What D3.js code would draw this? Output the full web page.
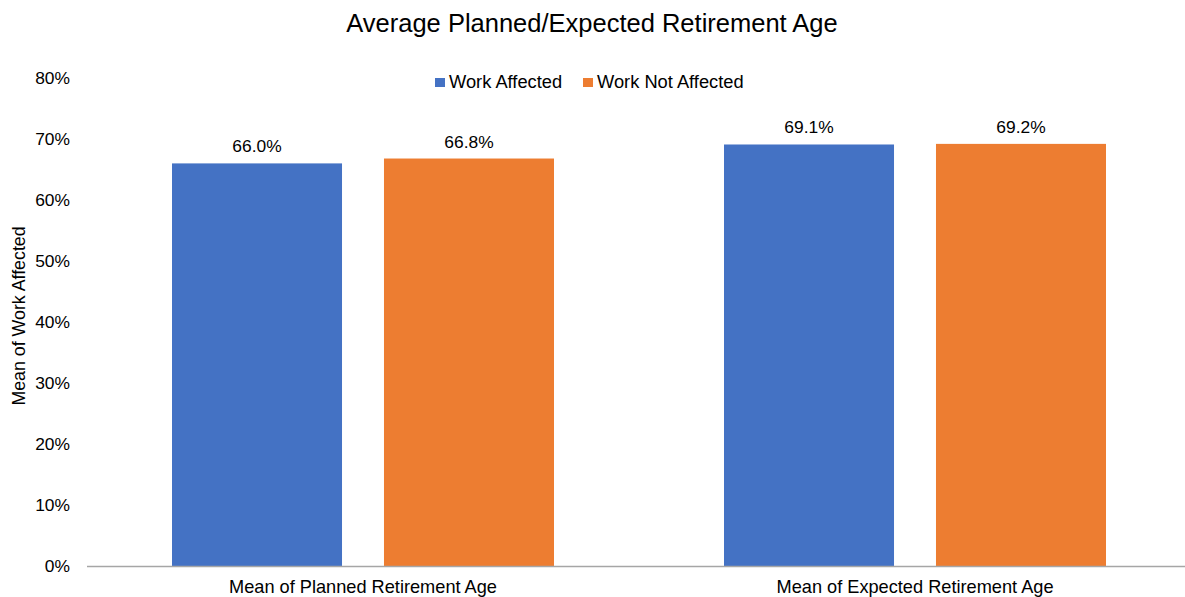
<!DOCTYPE html>
<html><head><meta charset="utf-8">
<script src="https://cdn.jsdelivr.net/npm/d3@7"></script>
<style>body{margin:0;background:#fff}svg{display:block;font-family:"Liberation Sans",Arial,sans-serif}</style>
</head><body><svg id="c" width="1185" height="597"></svg>
<script>
const title = "Average Planned/Expected Retirement Age";
const categories = ["Mean of Planned Retirement Age", "Mean of Expected Retirement Age"];
const seriesNames = ["Work Affected", "Work Not Affected"];
const workAffected = [66.0, 69.1];
const workNotAffected = [66.8, 69.2];
const colors = ["#4472C4", "#ED7D31"];
const yTicks = [0, 10, 20, 30, 40, 50, 60, 70, 80];
const yTitle = "Mean of Work Affected";

const svg = d3.select("#c");
const x0 = 87, x1 = 1191, yTop = 78, yBot = 566;
const y = d3.scaleLinear().domain([0, 80]).range([yBot, yTop]);
const xc = d3.scaleBand().domain(categories).range([x0, x1]).paddingInner(0.308).paddingOuter(0.154);
const xs = d3.scaleBand().domain(seriesNames).range([0, xc.bandwidth()]).paddingInner(0.198);
const seriesVals = [workAffected, workNotAffected];
const FF = "Liberation Sans, Arial, sans-serif";

svg.append("text").attr("x", 592).attr("y", 32).attr("text-anchor", "middle")
  .attr("font-size", 25.5).attr("fill", "#000").text(title);

// y axis labels
const yAxis = d3.axisLeft(y).tickValues(yTicks).tickFormat(d => d + "%").tickSize(0).tickPadding(0);
const ga = svg.append("g").attr("transform", `translate(70,0)`).call(yAxis);
ga.select(".domain").remove();
ga.selectAll("text").attr("font-size", 17.4).attr("fill", "#000").attr("font-family", FF);

// bars
categories.forEach((c, ci) => {
  seriesNames.forEach((s, si) => {
    const v = seriesVals[si][ci];
    const bx = xc(c) + xs(s);
    svg.append("rect").attr("x", bx).attr("y", y(v)).attr("width", xs.bandwidth())
      .attr("height", y(0) - y(v)).attr("fill", colors[si]);
    svg.append("text").attr("x", bx + xs.bandwidth() / 2).attr("y", y(v) - 11)
      .attr("text-anchor", "middle").attr("font-size", 17.4).attr("fill", "#000")
      .text(v.toFixed(1) + "%");
  });
});

// x axis
const xAxis = d3.axisBottom(xc).tickSize(0).tickPadding(0);
const gx = svg.append("g").attr("transform", `translate(0,${yBot})`).call(xAxis);
gx.select(".domain").remove();
gx.selectAll("text").attr("font-size", 18.2).attr("fill", "#000").attr("dy", null).attr("y", 27)
  .attr("font-family", FF);
svg.append("line").attr("x1", x0).attr("x2", 1185).attr("y1", yBot + 0.5).attr("y2", yBot + 0.5)
  .attr("stroke", "#A6A6A6").attr("stroke-width", 1.3);

// legend
const legX = [435, 583];
seriesNames.forEach((s, i) => {
  svg.append("rect").attr("x", legX[i]).attr("y", 78).attr("width", 10).attr("height", 9).attr("fill", colors[i]);
  svg.append("text").attr("x", legX[i] + 14).attr("y", 88).attr("font-size", 18.3).attr("fill", "#000").text(s);
});

// y title
svg.append("text").attr("transform", "translate(25,316) rotate(-90)").attr("text-anchor", "middle")
  .attr("font-size", 17.8).attr("fill", "#000").text(yTitle);
</script></body></html>
